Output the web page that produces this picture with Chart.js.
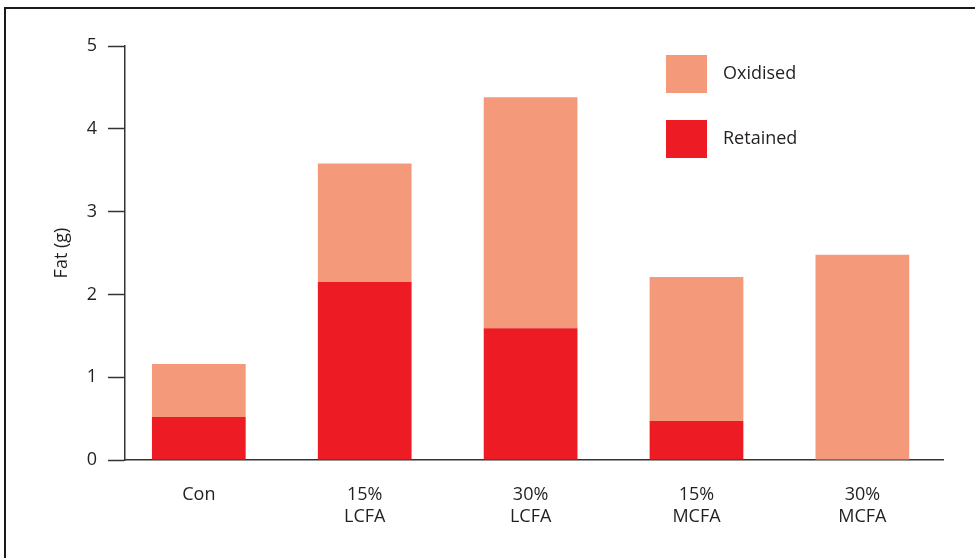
<!DOCTYPE html>
<html>
<head>
<meta charset="utf-8">
<script src="https://cdn.jsdelivr.net/npm/chart.js@4/dist/chart.umd.min.js"></script>
<style>
  html, body { margin: 0; padding: 0; background: #fff; }
  canvas { display: block; }
</style>
</head>
<body>
<canvas id="fatChart" width="975" height="558"></canvas>
<script>
  const categories = ['Con', '15% LCFA', '30% LCFA', '15% MCFA', '30% MCFA'];
  const retained = [0.52, 2.15, 1.59, 0.47, 0];
  const oxidised = [0.64, 1.43, 2.79, 1.74, 2.48];
  const yTicks = [0, 1, 2, 3, 4, 5];

  const ink = '#231f20';
  const fontFamily = '"Open Sans", "Noto Sans", sans-serif';

  // bars sit on a numeric x axis so the y axis can start a little inside the first group
  const points = (arr) => arr.map((v, i) => ({ x: i, y: v }));

  // black frame round the figure (left and top edges only show)
  const framePlugin = {
    id: 'frame',
    beforeDraw(chart) {
      const ctx = chart.ctx;
      ctx.save();
      ctx.strokeStyle = '#1a1a1a';
      ctx.lineWidth = 2;
      ctx.strokeRect(5, 8, 1100, 700);
      ctx.restore();
    }
  };

  // legend as a column of big swatches, top to bottom in stacking order
  const boxLegend = {
    id: 'boxLegend',
    afterDraw(chart) {
      const ctx = chart.ctx;
      const sets = chart.data.datasets.slice().reverse();
      ctx.save();
      ctx.font = '18px ' + fontFamily;
      ctx.textBaseline = 'middle';
      sets.forEach((ds, i) => {
        const top = 55 + i * 65;
        ctx.fillStyle = ds.backgroundColor;
        ctx.fillRect(666, top, 41, 38);
        ctx.fillStyle = ink;
        ctx.fillText(ds.label, 723, top + 19);
      });
      ctx.restore();
    }
  };

  new Chart(document.getElementById('fatChart'), {
    type: 'bar',
    data: {
      datasets: [
        {
          label: 'Retained',
          data: points(retained),
          backgroundColor: '#ed1c24',
          borderWidth: 0
        },
        {
          label: 'Oxidised',
          data: points(oxidised),
          backgroundColor: '#f4997a',
          borderWidth: 0
        }
      ]
    },
    options: {
      responsive: false,
      animation: false,
      devicePixelRatio: 1,
      categoryPercentage: 1,
      barPercentage: 0.565,
      layout: { padding: { top: 46, right: 32, left: 0, bottom: 0 } },
      plugins: {
        legend: { display: false },
        tooltip: { enabled: false }
      },
      scales: {
        x: {
          type: 'linear',
          stacked: true,
          offset: false,
          min: -0.445,
          max: 4.486,
          afterBuildTicks: (axis) => {
            axis.ticks = categories.map((c, i) => ({ value: i }));
          },
          afterFit: (axis) => { axis.height = 98; },
          grid: { display: true, offset: false, drawOnChartArea: false, drawTicks: false },
          border: { display: true, color: '#333', width: 1.5 },
          ticks: {
            autoSkip: false,
            maxRotation: 0,
            padding: 24,
            color: ink,
            font: { family: fontFamily, size: 18, lineHeight: 1.22 },
            callback: (value) => categories[value].split(' ')
          }
        },
        y: {
          stacked: true,
          min: 0,
          max: 5,
          afterBuildTicks: (axis) => {
            axis.ticks = yTicks.map((v) => ({ value: v }));
          },
          afterFit: (axis) => { axis.width = 125; },
          grid: {
            drawOnChartArea: false,
            drawTicks: true,
            tickLength: 17,
            tickWidth: 1.5,
            tickColor: '#333'
          },
          border: { display: true, color: '#333', width: 1.5 },
          ticks: {
            padding: 11,
            color: ink,
            font: { family: fontFamily, size: 18 }
          },
          title: {
            display: true,
            text: 'Fat (g)',
            color: ink,
            font: { family: fontFamily, size: 18 },
            padding: { top: 51, bottom: 0 }
          }
        }
      }
    },
    plugins: [framePlugin, boxLegend]
  });
</script>
</body>
</html>
